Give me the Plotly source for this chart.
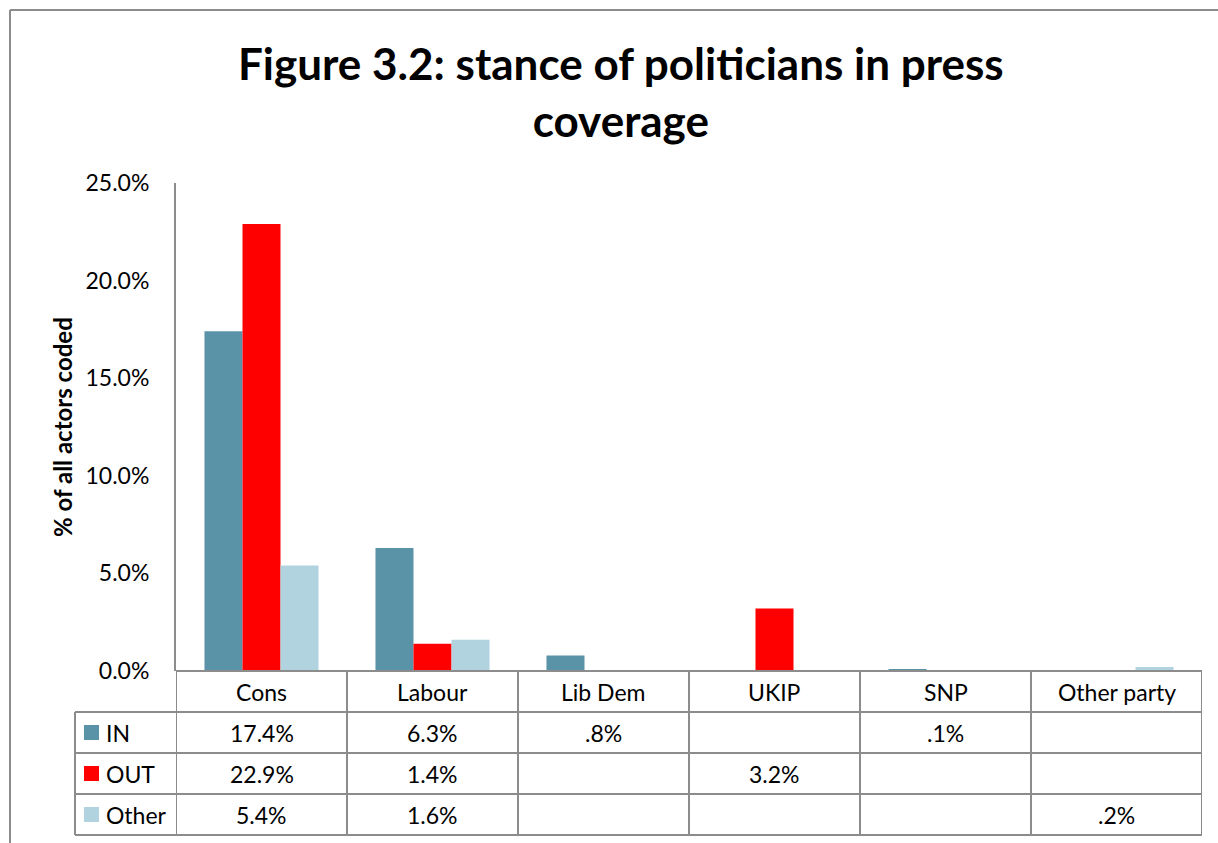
import plotly.graph_objects as go

categories = ["Cons", "Labour", "Lib Dem", "UKIP", "SNP", "Other party"]
series_names = ["IN", "OUT", "Other"]
in_vals = [17.4, 6.3, 0.8, None, 0.1, None]
out_vals = [22.9, 1.4, None, 3.2, None, None]
other_vals = [5.4, 1.6, None, None, None, 0.2]
colors = ["#5A93A8", "#FF0000", "#B1D3E0"]
y_ticks = [0, 5, 10, 15, 20, 25]

W, H = 1218, 843
FONT = "Lato"
GRID = "#8C8C8C"

def px(x):
    return x / W

def py(y):
    return 1 - y / H

def fmt(v):
    if v is None:
        return ""
    s = f"{v:.1f}%"
    if s.startswith("0."):
        s = s[1:]
    return s

x_left, x_right = 176, 1202
y_top, y_zero = 183, 671
row_lines = [671, 712, 753, 794, 835]
legend_left = 75

fig = go.Figure()
all_series = [in_vals, out_vals, other_vals]
for name, vals, col in zip(series_names, all_series, colors):
    fig.add_trace(go.Bar(x=list(range(len(categories))), y=vals, name=name,
                         marker=dict(color=col, line=dict(width=0)),
                         showlegend=False))

shapes = []
annotations = []
n = len(categories)
line = dict(color=GRID, width=2)

# outer frame
shapes.append(dict(type="line", xref="paper", yref="paper", x0=px(10), x1=1.0, y0=py(10), y1=py(10), line=line))
shapes.append(dict(type="line", xref="paper", yref="paper", x0=px(10), x1=px(10), y0=py(10), y1=0, line=line))

# table horizontal lines
for i, yy in enumerate(row_lines):
    x0 = px(x_left) if i == 0 else px(legend_left)
    shapes.append(dict(type="line", xref="paper", yref="paper", x0=x0, x1=px(x_right),
                       y0=py(yy), y1=py(yy), line=line))
# table vertical lines at category boundaries
for k in range(n + 1):
    shapes.append(dict(type="line", xref="x", yref="paper", x0=k - 0.5, x1=k - 0.5,
                       y0=py(row_lines[0]), y1=py(row_lines[-1]), line=line))
shapes.append(dict(type="line", xref="paper", yref="paper", x0=px(legend_left), x1=px(legend_left),
                   y0=py(row_lines[1]), y1=py(row_lines[-1]), line=line))

tfont = dict(family=FONT, size=23, color="#000000")
# header
hc = (row_lines[0] + row_lines[1]) / 2
for k, c in enumerate(categories):
    annotations.append(dict(x=k, y=py(hc), xref="x", yref="paper", text=c, showarrow=False,
                            font=tfont, xanchor="center", yanchor="middle"))
# rows
for r, (name, vals, col) in enumerate(zip(series_names, all_series, colors)):
    yc = (row_lines[r + 1] + row_lines[r + 2]) / 2
    shapes.append(dict(type="rect", xref="paper", yref="paper", x0=px(84), x1=px(99),
                       y0=py(yc + 7.5), y1=py(yc - 7.5), fillcolor=col, line=dict(width=0)))
    annotations.append(dict(x=px(104), y=py(yc), xref="paper", yref="paper", text=name,
                            showarrow=False, font=tfont, xanchor="left", yanchor="middle"))
    for k, v in enumerate(vals):
        if v is None:
            continue
        annotations.append(dict(x=k, y=py(yc), xref="x", yref="paper", text=fmt(v),
                                showarrow=False, font=tfont, xanchor="center", yanchor="middle"))

# y axis title
annotations.append(dict(x=px(62), y=py(427), xref="paper", yref="paper", text="<b>% of all actors coded</b>",
                        textangle=-90, showarrow=False, font=dict(family=FONT, size=24, color="#000000"),
                        xanchor="center", yanchor="middle"))
# title
annotations.append(dict(x=px(621), y=py(92), xref="paper", yref="paper",
                        text="<b>Figure 3.2: stance of politicians in press<br>coverage</b>",
                        showarrow=False, font=dict(family=FONT, size=44, color="#000000"),
                        xanchor="center", yanchor="middle"))

fig.update_layout(
    width=W, height=H,
    margin=dict(l=0, r=0, t=0, b=0, autoexpand=False),
    paper_bgcolor="white", plot_bgcolor="white",
    barmode="group", bargap=0.333, bargroupgap=0,
    xaxis=dict(domain=[px(x_left), px(x_right)], range=[-0.5, n - 0.5], showticklabels=False,
               showgrid=False, zeroline=False, showline=False, fixedrange=True, automargin=False),
    yaxis=dict(domain=[py(y_zero), py(y_top)], range=[0, 25], tickvals=y_ticks,
               ticktext=[f"{t:.1f}%" for t in y_ticks], showgrid=False, zeroline=False,
               showline=True, linecolor=GRID, linewidth=2, ticks="", ticklabelstandoff=20,
               automargin=False,
               tickfont=dict(family=FONT, size=23, color="#000000")),
    shapes=shapes, annotations=annotations,
)

fig.write_html("out.html")
